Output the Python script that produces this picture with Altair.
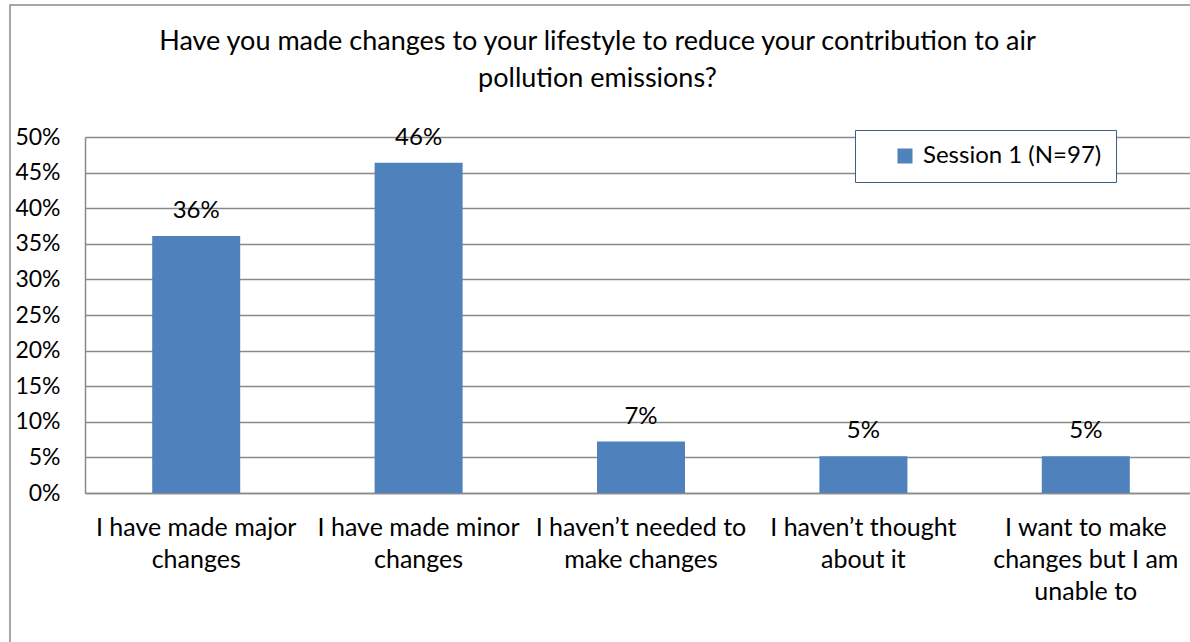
import altair as alt
import pandas as pd

categories = [
    "I have made major\nchanges",
    "I have made minor\nchanges",
    "I haven\u2019t needed to\nmake changes",
    "I haven\u2019t thought\nabout it",
    "I want to make\nchanges but I am\nunable to",
]
values = [0.3608, 0.4639, 0.0722, 0.0515, 0.0515]
series = "Session 1 (N=97)"
y_ticks = [0, 0.05, 0.10, 0.15, 0.20, 0.25, 0.30, 0.35, 0.40, 0.45, 0.50]

FONT = "Lato"
GRID = "#8a8a8a"
BAR = "#4F81BD"

df = pd.DataFrame({"category": categories, "value": values, "series": [series] * len(categories)})

x_enc = alt.X(
    "category:N",
    sort=categories,
    title=None,
    scale=alt.Scale(paddingInner=0.6, paddingOuter=0.3, range=[0, 1112]),
    axis=alt.Axis(
        labelAngle=0,
        labelExpr="split(datum.label, '\\n')",
        labelFont=FONT,
        labelFontSize=25,
        labelColor="black",
        labelLineHeight=32,
        labelPadding=22,
        labelBaseline="top",
        labelOverlap=False,
        ticks=False,
        domain=True,
        domainColor=GRID,
        domainWidth=1.5,
        labelLimit=400,
    ),
)

y_enc = alt.Y(
    "value:Q",
    title=None,
    scale=alt.Scale(domain=[0, 0.5], nice=False),
    axis=alt.Axis(
        values=y_ticks,
        format=".0%",
        labelFont=FONT,
        labelFontSize=23,
        labelColor="black",
        labelPadding=25,
        labelOverlap=False,
        ticks=False,
        domain=True,
        domainColor=GRID,
        domainWidth=1.5,
        grid=True,
        gridColor=GRID,
        gridWidth=1.5,
    ),
)

base = alt.Chart(df).encode(x=x_enc, y=y_enc)

bars = base.mark_bar(size=88).encode(
    color=alt.Color(
        "series:N",
        scale=alt.Scale(domain=[series], range=[BAR]),
        legend=alt.Legend(
            title=None,
            orient="none",
            legendX=770,
            legendY=-7,
            strokeColor="#3A5F8B",
            fillColor="white",
            padding=14,
            symbolType="square",
            symbolSize=225,
            symbolOffset=24,
            symbolStrokeWidth=0,
            labelFont=FONT,
            labelFontSize=24,
            labelColor="black",
            labelOffset=6,
            labelLimit=400,
        ),
    ),
)

labels = base.mark_text(
    font=FONT, fontSize=24, color="black", baseline="middle", dy=-25
).encode(
    text=alt.Text("value:Q", format=".0%"),
)

frame = alt.Chart(pd.DataFrame({"f": [0]})).mark_rect(
    fill=None, stroke=GRID, strokeWidth=1.5, clip=False
).encode(
    x=alt.value(-75), x2=alt.value(1300), y=alt.value(-132), y2=alt.value(700)
)

chart = (
    alt.layer(frame, bars, labels)
    .properties(
        width=1105,
        height=356,
        padding={"left": 85, "top": 137, "right": 0, "bottom": 149},
        autosize=alt.AutoSizeParams(type="none"),
        title=alt.TitleParams(
            text=[
                "Have you made changes to your lifestyle to reduce your contribution to air",
                "pollution emissions?",
            ],
            font=FONT,
            fontSize=27,
            fontWeight="normal",
            color="black",
            anchor="middle",
            frame="group",
            dx=-40,
            offset=-89,
            lineHeight=37,
        ),
    )
    .configure_view(stroke=None)
    .configure(background="white")
)

chart.save("out.html", embed_options={"renderer": "svg", "actions": False})
